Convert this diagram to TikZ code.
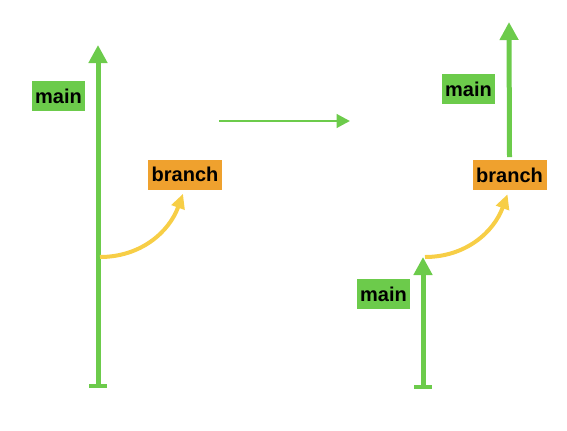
\documentclass[tikz,border=0pt]{standalone}
\usepackage{fontspec}
\setmainfont{Liberation Sans}
\usetikzlibrary{arrows.meta}
\definecolor{gitgreen}{RGB}{108,203,75}
\definecolor{gitorange}{RGB}{239,161,46}
\definecolor{gityellow}{RGB}{247,206,70}
\begin{document}
\begin{tikzpicture}[x=0.75pt,y=0.75pt,
  lbl/.style={inner sep=0pt,minimum height=22.5pt,font=\bfseries\fontsize{15}{15}\selectfont,text=black},
  mainlbl/.style={lbl,fill=gitgreen,minimum width=39.75pt},
  branchlbl/.style={lbl,fill=gitorange,minimum width=55.5pt},
  trunk/.style={draw=gitgreen,line width=3.75pt,{Bar[width=13pt,line width=3pt]}-{Triangle[length=13.5pt,width=13.5pt]}},
  trunkup/.style={draw=gitgreen,line width=3.75pt,-{Triangle[length=13.5pt,width=13.5pt]}},
  fork/.style={draw=gityellow,line width=3pt,-{Triangle[length=11pt,width=10pt]}},
  flow/.style={draw=gitgreen,line width=2.2pt,-{Triangle[length=10pt,width=10pt]}}
]
\useasboundingbox (0,0) rectangle (567,430);
% left
\coordinate (lbot) at (98,42);
\coordinate (ltop) at (98,385);
\coordinate (lfork) at (100,173);
\node[mainlbl] (lmain) at (58.5,334) {main};
\node[branchlbl] (lbranch) at (185,255.5) {branch};
\draw[trunk] (lbot) -- (ltop);
\draw[fork] (lfork) to[out=0,in=-110] ([xshift=-1.5pt,yshift=-3pt]lbranch.south);
% middle
\coordinate (ma) at (219,309);
\coordinate (mb) at (350,309);
\draw[flow] (ma) -- (mb);
% right
\coordinate (rbot) at (423,41);
\coordinate (rtip) at (423,173);
\coordinate (rfork) at (425,173);
\coordinate (rtop) at (509,408);
\node[mainlbl] (rmainlow) at (383.5,136) {main};
\node[branchlbl] (rbranch) at (509.5,255) {branch};
\node[mainlbl] (rmainhigh) at (468.5,341) {main};
\draw[trunk] (rbot) -- (rtip);
\draw[fork] (rfork) to[out=0,in=-110] ([xshift=-1.5pt,yshift=-3pt]rbranch.south);
\draw[trunkup] ([yshift=2pt]rbranch.north) -- (rtop);
\end{tikzpicture}
\end{document}
